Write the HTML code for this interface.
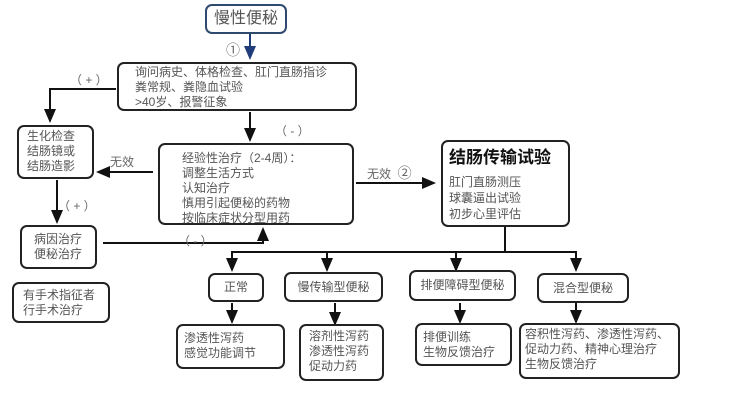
<!DOCTYPE html>
<html><head><meta charset="utf-8"><style>
body{margin:0;width:732px;height:418px;background:#fff;position:relative;overflow:hidden;font-family:"Liberation Sans","Noto Sans CJK SC",sans-serif;color:#555;}
.b{position:absolute;border:2px solid #222;border-radius:7px;box-sizing:border-box;font-size:12px;line-height:15px;}
.t{position:absolute;font-size:12px;color:#666;white-space:nowrap;}
svg{position:absolute;left:0;top:0;}
</style></head><body>
<svg width="732" height="418">
<defs><marker id="a" markerWidth="8" markerHeight="8" refX="6" refY="4" orient="auto"><path d="M0,1 L7,4 L0,7 z" fill="#111"/></marker>
<marker id="ab" markerWidth="8" markerHeight="8" refX="6" refY="4" orient="auto"><path d="M0,1 L7,4 L0,7 z" fill="#1f3d7a"/></marker></defs>
<g stroke="#111" stroke-width="2" fill="none">
<line x1="250" y1="34" x2="250" y2="58" stroke="#1f3d7a" marker-end="url(#ab)"/>
<polyline points="116,89 50,89 50,121" marker-end="url(#a)"/>
<line x1="250" y1="112" x2="250" y2="140" marker-end="url(#a)"/>
<line x1="153" y1="172" x2="98" y2="172" marker-end="url(#a)"/>
<line x1="57" y1="180" x2="57" y2="222" marker-end="url(#a)"/>
<polyline points="103,243 263,243 263,229" marker-end="url(#a)"/>
<line x1="356" y1="183" x2="434" y2="183" marker-end="url(#a)"/>
<line x1="505" y1="227" x2="505" y2="252"/>
<line x1="231" y1="252" x2="577" y2="252"/>
<line x1="232" y1="252" x2="232" y2="270" marker-end="url(#a)"/>
<line x1="327" y1="252" x2="327" y2="270" marker-end="url(#a)"/>
<line x1="456" y1="252" x2="456" y2="270" marker-end="url(#a)"/>
<line x1="576" y1="252" x2="576" y2="270" marker-end="url(#a)"/>
<line x1="232" y1="303" x2="232" y2="322" marker-end="url(#a)"/>
<line x1="335" y1="303" x2="335" y2="324" marker-end="url(#a)"/>
<line x1="460" y1="303" x2="460" y2="322" marker-end="url(#a)"/>
<line x1="576" y1="303" x2="576" y2="322" marker-end="url(#a)"/>
</g></svg>
<div class="b" style="left:205px;top:4px;width:82px;height:30px;border-color:#2f4a6e;font-size:16px;line-height:26px;text-align:center;">慢性便秘</div>
<div class="t" style="left:226px;top:40px;font-size:14px;">①</div>
<div class="b" style="left:117px;top:62px;width:240px;height:49px;padding:1px 0 0 16px;">询问病史、体格检查、肛门直肠指诊<br>粪常规、粪隐血试验<br>&gt;40岁、报警征象</div>
<div class="t" style="left:70px;top:71px;">（ + ）</div>
<div class="t" style="left:275px;top:122px;">（ - ）</div>
<div class="b" style="left:17px;top:125px;width:77px;height:54px;padding:2px 0 0 8px;">生化检查<br>结肠镜或<br>结肠造影</div>
<div class="t" style="left:110px;top:153px;">无效</div>
<div class="b" style="left:158px;top:143px;width:196px;height:82px;padding:6px 0 0 22px;">经验性治疗（2-4周）：<br>调整生活方式<br>认知治疗<br>慎用引起便秘的药物<br>按临床症状分型用药</div>
<div class="t" style="left:58px;top:197px;">（ + ）</div>
<div class="b" style="left:20px;top:225px;width:77px;height:44px;padding:5px 0 0 12px;">病因治疗<br>便秘治疗</div>
<div class="t" style="left:178px;top:232px;">（ - ）</div>
<div class="b" style="left:12px;top:282px;width:98px;height:41px;padding:4px 0 0 9px;">有手术指征者<br>行手术治疗</div>
<div class="t" style="left:367px;top:163px;">无效 &nbsp;<span style="font-size:14px">②</span></div>
<div class="b" style="left:441px;top:140px;width:129px;height:87px;padding:4px 0 0 6px;font-size:15.5px;"><b style="color:#111;font-size:17px;line-height:24px;">结肠传输试验</b><div style="font-size:12px;line-height:16px;margin-top:4px;">肛门直肠测压<br>球囊逼出试验<br>初步心里评估</div></div>
<div class="b" style="left:208px;top:273px;width:56px;height:29px;line-height:25px;text-align:center;">正常</div>
<div class="b" style="left:284px;top:272px;width:99px;height:30px;line-height:26px;text-align:center;">慢传输型便秘</div>
<div class="b" style="left:409px;top:270px;width:107px;height:31px;line-height:27px;text-align:center;">排便障碍型便秘</div>
<div class="b" style="left:537px;top:273px;width:92px;height:30px;line-height:26px;text-align:center;">混合型便秘</div>
<div class="b" style="left:176px;top:324px;width:109px;height:45px;padding:5px 0 0 6px;">渗透性泻药<br>感觉功能调节</div>
<div class="b" style="left:299px;top:324px;width:85px;height:57px;padding:3px 0 0 8px;">溶剂性泻药<br>渗透性泻药<br>促动力药</div>
<div class="b" style="left:415px;top:323px;width:97px;height:43px;padding:5px 0 0 6px;">排便训练<br>生物反馈治疗</div>
<div class="b" style="left:519px;top:323px;width:161px;height:56px;padding:2px 0 0 4px;">容积性泻药、渗透性泻药、<br>促动力药、精神心理治疗<br>生物反馈治疗</div>
</body></html>
